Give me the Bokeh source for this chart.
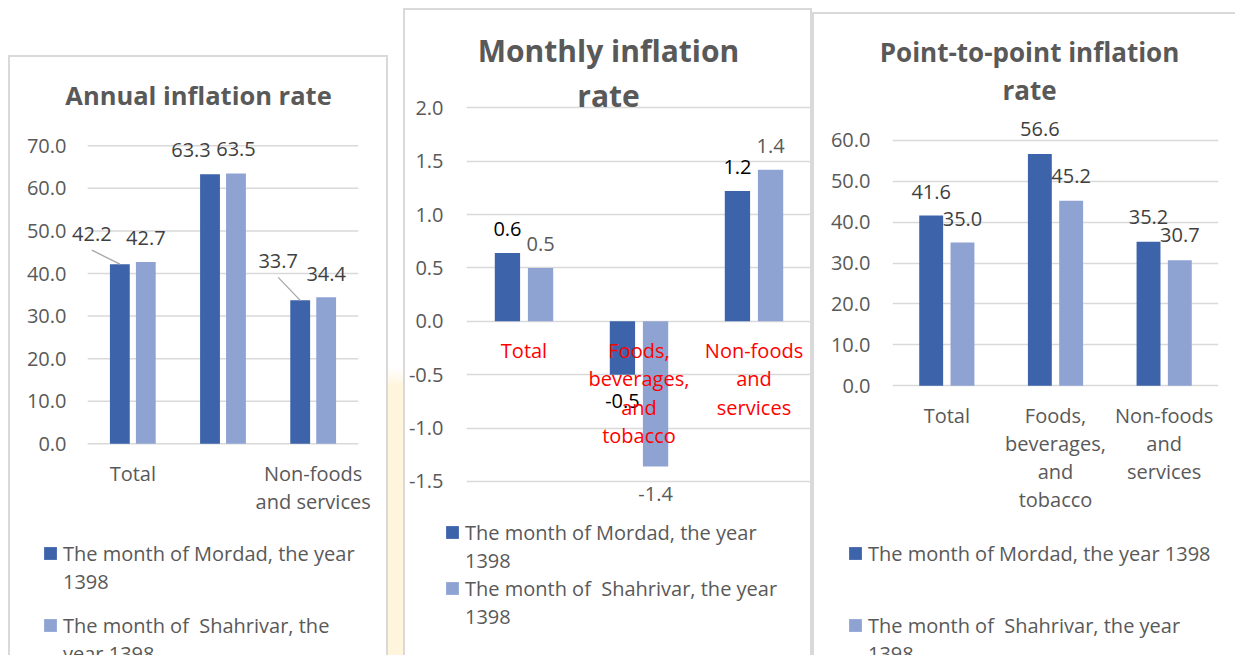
from bokeh.plotting import figure
from bokeh.models import (ColumnDataSource, FactorRange, Range1d, FixedTicker,
                          NumeralTickFormatter, Legend, LegendItem, Spacer, Title)
from bokeh.transform import dodge
from bokeh.core.properties import value
from bokeh.embed import file_html
from bokeh.resources import INLINE

# ---------------- data ----------------
categories = ["Total", "Foods, beverages, and tobacco", "Non-foods and services"]

annual_mordad = [42.2, 63.3, 33.7]
annual_shahrivar = [42.7, 63.5, 34.4]

monthly_mordad = [0.64, -0.50, 1.22]
monthly_shahrivar = [0.50, -1.36, 1.42]

p2p_mordad = [41.6, 56.6, 35.2]
p2p_shahrivar = [35.0, 45.2, 30.7]

annual_ticks = [0, 10, 20, 30, 40, 50, 60, 70]
monthly_ticks = [-1.5, -1.0, -0.5, 0.0, 0.5, 1.0, 1.5, 2.0]
p2p_ticks = [0, 10, 20, 30, 40, 50, 60]

annual_title = ["Annual inflation rate"]
monthly_title = ["Monthly inflation", "rate"]
p2p_title = ["Point-to-point inflation", "rate"]

annual_tick_labels = ["Total", " ", "Non-foods\nand services"]
p2p_tick_labels = ["Total", "Foods,\nbeverages,\nand\ntobacco", "Non-foods\nand\nservices"]
monthly_cat_labels = ["Total", "Foods,\nbeverages,\nand\ntobacco", "Non-foods\nand\nservices"]

legend_annual = ["The month of Mordad, the year\n1398", "The month of  Shahrivar, the\nyear 1398"]
legend_monthly = ["The month of Mordad, the year\n1398", "The month of  Shahrivar, the year\n1398"]
legend_p2p = ["The month of Mordad, the year 1398", "The month of  Shahrivar, the year\n1398"]

# ---------------- style ----------------
DARK = "#3d63ab"
LIGHT = "#8fa3d3"
GRID = "#d9d9d9"
TXT = "#595959"
LBL = "#404040"
FONT = "Open Sans"
OFF = 0.144
BW = 0.22
LINE = 28


def place(model, x, y, extra=None):
    st = {"position": "absolute", "left": f"{x}px", "top": f"{y}px"}
    if extra:
        st.update(extra)
    model.styles = st
    return model


def clean(p):
    p.background_fill_alpha = 0
    p.border_fill_alpha = 0
    p.outline_line_color = None


def chart(width, height, xr, yr, ticks, mb, ystandoff):
    p = figure(width=width, height=height, x_range=xr, y_range=Range1d(*yr),
               output_backend="svg", toolbar_location=None,
               min_border_left=mb[0], min_border_right=mb[1], min_border_top=mb[2],
               min_border_bottom=mb[3])
    clean(p)
    p.xgrid.visible = False
    p.ygrid.grid_line_color = GRID
    p.ygrid.grid_line_width = 1.5
    tk = FixedTicker(ticks=ticks)
    p.yaxis.ticker = tk
    p.ygrid.ticker = tk
    p.yaxis.formatter = NumeralTickFormatter(format="0.0")
    for ax in (p.xaxis[0], p.yaxis[0]):
        ax.axis_line_color = None
        ax.major_tick_line_color = None
        ax.minor_tick_line_color = None
        ax.major_tick_out = 0
        ax.major_tick_in = 0
        ax.major_label_text_font = FONT
        ax.major_label_text_font_size = "20px"
        ax.major_label_text_color = TXT
    p.yaxis.major_label_standoff = ystandoff
    p.xaxis.major_label_standoff = 14
    p.xaxis.major_label_text_line_height = 1.04
    return p


def add_bars(p, factors, a, b):
    src = ColumnDataSource(dict(cat=factors, a=a, b=b))
    p.vbar(x=dodge("cat", -OFF, range=p.x_range), top="a", bottom=0, width=BW,
           source=src, fill_color=DARK, line_color=None)
    p.vbar(x=dodge("cat", OFF, range=p.x_range), top="b", bottom=0, width=BW,
           source=src, fill_color=LIGHT, line_color=None)
    return src


def add_labels(p, factors, vals, shift, dx, dy, color):
    src = ColumnDataSource(dict(cat=factors, v=vals, t=[f"{v:.1f}" for v in vals],
                                dx=dx, dy=dy))
    p.text(x=dodge("cat", shift, range=p.x_range), y="v", text="t", x_offset="dx",
           y_offset="dy", source=src, text_align="center", text_baseline="middle",
           text_font=value(FONT), text_font_size="20px", text_color=color)


def title_fig(lines, size, standoffs, width, top_border):
    t = figure(width=width, height=top_border + 1, x_axis_type=None, y_axis_type=None,
               output_backend="svg", toolbar_location=None, min_border_left=0,
               min_border_right=0, min_border_bottom=0, min_border_top=top_border)
    clean(t)
    for txt, so in reversed(list(zip(lines, standoffs))):
        t.add_layout(Title(text=txt, align="center", standoff=so, text_font=FONT,
                           text_font_style="bold", text_font_size=size,
                           text_color=TXT), "above")
    return t


def legend_fig(labels, factors, src, width, height, spacing, swatch_alpha):
    # legend swatches come from the same series; the bars themselves fall outside
    # this small figure's y range, so only the legend is seen
    g = figure(width=width, height=height, x_axis_type=None, y_axis_type=None,
               x_range=FactorRange(*factors), y_range=Range1d(1000, 1001),
               output_backend="svg", toolbar_location=None, min_border=0)
    clean(g)
    r1 = g.vbar(x="cat", top="a", bottom=0, width=BW, source=src, fill_color=DARK,
                fill_alpha=swatch_alpha, line_color=None)
    r2 = g.vbar(x="cat", top="b", bottom=0, width=BW, source=src, fill_color=LIGHT,
                fill_alpha=swatch_alpha, line_color=None)
    items = [LegendItem(label=lab, renderers=[r])
             for lab, r in zip(labels, [r1, r2]) if lab is not None]
    lg = Legend(items=items, location="top_left", orientation="vertical",
                glyph_width=16, glyph_height=16, label_standoff=5, spacing=spacing,
                padding=0, margin=0, border_line_color=None, background_fill_alpha=0,
                label_text_font=FONT, label_text_font_size="20px",
                label_text_color=TXT, label_text_line_height=1.03, label_height=LINE)
    g.add_layout(lg)
    return g


def legend_block(labels, factors, src, x, y, width, spacing):
    # first line of each entry carries the swatch, the wrapped rest sits one line below
    first = [lab.split("\n")[0] for lab in labels]
    rest = [lab.split("\n")[1] if "\n" in lab else " " for lab in labels]
    ga = place(legend_fig(first, factors, src, width, 655 - y, spacing, 1.0), x, y)
    gb = place(legend_fig(rest, factors, src, width, 655 - y - LINE, spacing, 0.0),
               x, y + LINE)
    return [ga, gb]


def box(x, y, w, h, widths):
    s = Spacer(width=w, height=h)
    return place(s, x, y, {"border-style": "solid", "border-color": GRID,
                           "border-width": widths, "box-sizing": "border-box"})


# ---------------- panel 1: annual ----------------
f1 = annual_tick_labels
x1 = FactorRange(*f1, range_padding=0.18, range_padding_units="absolute")
p1 = chart(380, 411, x1, (-0.4, 75), annual_ticks, (63, 14, 5, 85), 5)
p1.ygrid.visible = False
gsrc = ColumnDataSource(dict(y=annual_ticks, a=[f1[0]] * len(annual_ticks),
                             b=[f1[-1]] * len(annual_ticks)))
p1.segment(x0=dodge("a", -0.5, range=x1), x1=dodge("b", 0.5, range=x1), y0="y", y1="y",
           source=gsrc, line_color=GRID, line_width=1.5, level="underlay")
s1 = add_bars(p1, f1, annual_mordad, annual_shahrivar)
add_labels(p1, f1, annual_mordad, -OFF, [-28, -19, -22], [-30, -24, -39], LBL)
add_labels(p1, f1, annual_shahrivar, OFF, [0, 0, 0], [-24, -24, -23], LBL)
px_cat = 303 / 3.36
px_unit = 321 / 75.4
for i, (ldx, ldy) in [(0, (-28, -30)), (2, (-22, -39))]:
    v = annual_mordad[i]
    ls = ColumnDataSource(dict(cat=[f1[i]], y0=[v + (-ldy - 16) / px_unit], y1=[v]))
    p1.segment(x0=dodge("cat", -OFF + ldx / px_cat, range=x1), y0="y0",
               x1=dodge("cat", -OFF, range=x1), y1="y1", source=ls,
               line_color="#a6a6a6", line_width=1.3)
place(p1, 8, 119)

# ---------------- panel 2: monthly ----------------
f2 = categories
p2 = chart(409, 431, FactorRange(*f2), (-1.8, 2.05), monthly_ticks, (63, 1, 15, 5), 23)
p2.xaxis.visible = False
s2 = add_bars(p2, f2, monthly_mordad, monthly_shahrivar)
add_labels(p2, f2, monthly_mordad, -OFF, [0, 0, 0],
           [-24 if v >= 0 else 26 for v in monthly_mordad], "#000000")
add_labels(p2, f2, monthly_shahrivar, OFF, [0, 0, 0],
           [-24 if v >= 0 else 27 for v in monthly_shahrivar], TXT)
csrc = ColumnDataSource(dict(cat=f2, y=[0, 0, 0], t=monthly_cat_labels))
p2.text(x="cat", y="y", text="t", source=csrc, y_offset=16, text_align="center",
        text_baseline="top", text_font=value(FONT), text_font_size="20px",
        text_color="#ff0000", text_line_height=1.04)
place(p2, 403, 87)

# ---------------- panel 3: point-to-point ----------------
f3 = p2p_tick_labels
p3 = chart(415, 416, FactorRange(*f3), (-0.4, 67), p2p_ticks, (80, 9, 5, 135), 22)
s3 = add_bars(p3, f3, p2p_mordad, p2p_shahrivar)
add_labels(p3, f3, p2p_mordad, -OFF, [0, 0, 0], [-24, -25, -25], LBL)
add_labels(p3, f3, p2p_shahrivar, OFF, [0, 0, 0], [-24, -25, -25], LBL)
place(p3, 812, 106)

# ---------------- titles ----------------
t1 = place(title_fig(annual_title, "25.5px", [0], 300, 45), 48, 66)
t2 = place(title_fig(monthly_title, "30px", [4, 0], 300, 100), 458, 15)
t3 = place(title_fig(p2p_title, "26px", [0, 0], 330, 85), 864, 22)

# ---------------- legends ----------------
legends = []
legends += legend_block(legend_annual, f1, s1, 42, 539, 345, 44)
legends += legend_block(legend_monthly, f2, s2, 444, 518, 365, 28)
legends += legend_block(legend_p2p, f3, s3, 847, 539, 385, 44)

# ---------------- panel frames ----------------
b1 = box(8, 55, 380, 600, "2px 2px 0 2px")
b2 = box(403, 8, 409, 647, "2px 2px 0 2px")
b3 = box(812, 12, 423, 643, "2px 0 0 2px")
glow = place(Spacer(width=15, height=287), 388, 368,
             {"background": "linear-gradient(to bottom, rgba(255,244,220,0) 0px, #fff5dd 18px, #fff5dd 100%)"})

models = [b1, b2, b3, glow, p1, p2, p3, t1, t2, t3] + legends
open("out.html", "w").write(file_html(models, INLINE))
